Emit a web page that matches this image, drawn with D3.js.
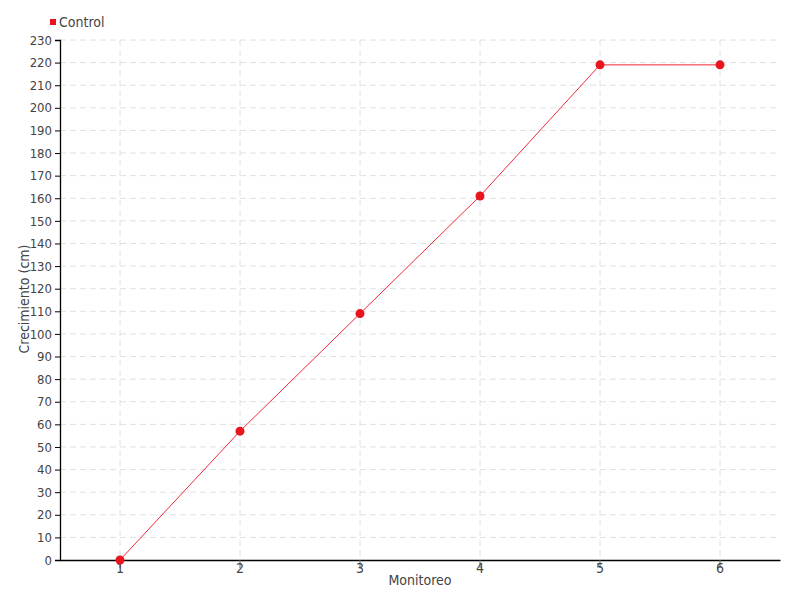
<!DOCTYPE html>
<html><head><meta charset="utf-8">
<script src="https://cdn.jsdelivr.net/npm/d3@7"></script>
<style>
body{margin:0;background:#fff;}
text{font-family:"DejaVu Sans Condensed","DejaVu Sans",sans-serif;font-stretch:condensed;fill:#444;}
</style></head>
<body><svg id="c" width="800" height="600"></svg>
<script>
const categories = ["1","2","3","4","5","6"];
const seriesName = "Control";
const values = [0, 57, 109, 161, 219, 219];
const yTicks = d3.range(0, 231, 10);

const svg = d3.select("#c");
const m = {l:60, r:20, t:40, b:40};
const W = 800, H = 600;
const x = d3.scaleBand().domain(categories).range([m.l, W - m.r]);
const y = d3.scaleLinear().domain([0, 230]).range([H - m.b, m.t]);
const cx = d => x(d) + x.bandwidth()/2;

// grid
const g = svg.append("g");
g.selectAll("line.h").data(yTicks.filter(t=>t>0)).join("line")
  .attr("x1", m.l).attr("x2", W - m.r)
  .attr("y1", d=>y(d)).attr("y2", d=>y(d))
  .attr("stroke", "#e0e0e0").attr("stroke-dasharray", "6,4");
g.selectAll("line.v").data(categories).join("line")
  .attr("x1", d=>cx(d)).attr("x2", d=>cx(d))
  .attr("y1", m.t).attr("y2", H - m.b)
  .attr("stroke", "#e0e0e0").attr("stroke-dasharray", "6,4");

// y axis
const ya = svg.append("g").attr("transform", `translate(${m.l},0)`)
  .call(d3.axisLeft(y).tickValues(yTicks).tickSize(5).tickPadding(3));
ya.select(".domain").attr("stroke", "#000").attr("stroke-width", 1.3);
ya.selectAll(".tick line").attr("stroke", "#000");
ya.selectAll(".tick text").style("font-size", "13px").attr("fill", "#444");

// x axis
const xa = svg.append("g").attr("transform", `translate(0,${H - m.b})`)
  .call(d3.axisBottom(x).tickSize(8).tickSizeOuter(0).tickPadding(-2));
xa.select(".domain").attr("stroke", "#000").attr("stroke-width", 1.3);
xa.selectAll(".tick line").attr("stroke", "#666");
xa.selectAll(".tick text").style("font-size", "14px").attr("fill", "#444").attr("dy", "0.5em");

// labels
svg.append("text").attr("x", 420).attr("y", 585).attr("text-anchor", "middle")
  .style("font-size", "14px").text("Monitoreo");
svg.append("text").attr("transform", "translate(29,299) rotate(-90)").attr("text-anchor", "middle")
  .style("font-size", "14px").text("Crecimiento (cm)");

// line
const line = d3.line().x((d,i)=>cx(categories[i])).y(d=>y(d));
svg.append("path").datum(values).attr("d", line)
  .attr("fill", "none").attr("stroke", "#f0283a").attr("stroke-width", 1);
svg.selectAll("circle.p").data(values).join("circle")
  .attr("cx", (d,i)=>cx(categories[i])).attr("cy", d=>y(d)).attr("r", 4.5)
  .attr("fill", "#e8141e");

// legend
svg.append("rect").attr("x", 50).attr("y", 19).attr("width", 6).attr("height", 6).attr("fill", "#e8141e");
svg.append("text").attr("x", 59).attr("y", 27).style("font-size", "14px").text(seriesName);
</script></body></html>
